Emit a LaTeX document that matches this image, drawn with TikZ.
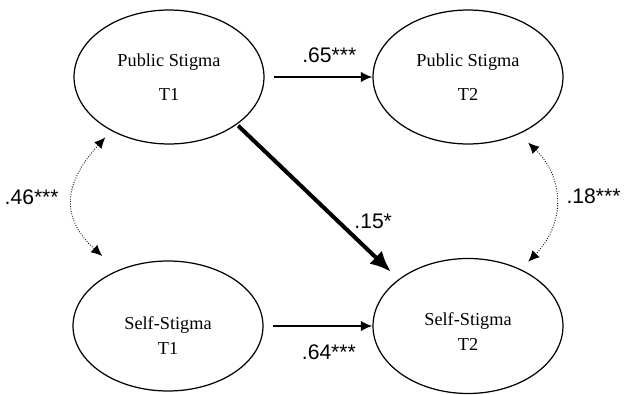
\documentclass[tikz,border=0pt]{standalone}
\usepackage{fontspec}
\usepackage{tikz}
\setmainfont{Liberation Serif}
\newfontfamily\coeffont{Liberation Sans}
\usetikzlibrary{shapes.geometric,arrows.meta}

\begin{document}
\begin{tikzpicture}[x=0.02cm, y=-0.02cm, >={Latex[length=0.23cm,width=0.21cm]}]
  \tikzstyle{latent}=[draw, ellipse, line width=0.7pt, minimum width=3.8cm, minimum height=2.68cm, inner sep=0pt, align=center, font=\fontsize{10.4}{12.5}\selectfont]
  \tikzstyle{reg}=[->, line width=1.1pt]
  \tikzstyle{cov}=[<->, line width=0.5pt, dash pattern=on 0.5pt off 0.9pt, >={Latex[length=0.22cm,width=0.2cm]}]
  \tikzstyle{coef}=[font=\coeffont\fontsize{12}{14}\selectfont, inner sep=1pt]
  \useasboundingbox (0,0) rectangle (627,395);
  \node[latent] (pub1) at (169,77) {Public Stigma\\[7pt]T1};
  \node[latent] (pub2) at (468,77) {Public Stigma\\[7pt]T2};
  \node[latent, minimum height=2.6cm] (self1) at (168,326) {\rule{0pt}{18pt}Self-Stigma\\[1.7pt]T1};
  \node[latent, minimum height=2.7cm] (self2) at (468,326) {\rule{0pt}{14pt}Self-Stigma\\[1.7pt]T2};
  \draw[reg, shorten <=0.18cm] (pub1.east) -- node[coef, pos=0.6, above=6.5pt] {.65***} (pub2.west);
  \draw[reg, shorten <=0.18cm] (self1.east) -- node[coef, pos=0.6, below=9pt] {.64***} (self2.west);
  \draw[->, line width=2.3pt, >={Latex[length=0.42cm,width=0.36cm]}, shorten <=1pt, shorten >=6pt] (pub1.-35) -- node[coef, pos=0.66, right=4pt, yshift=3pt] {.15*} (self2.146);
  % correlations
  \draw[cov, shorten <=5pt, shorten >=12pt] (pub1.223) to[bend right=45, looseness=1.37] node[coef, midway, left=8pt, yshift=3pt] {.46***} (self1.132);
  \draw[cov, shorten <=7pt, shorten >=6pt] (pub2.-48) to[bend left=45, looseness=1.2] node[coef, midway, right=6pt, yshift=3pt] {.18***} (self2.47);
\end{tikzpicture}
\end{document}
